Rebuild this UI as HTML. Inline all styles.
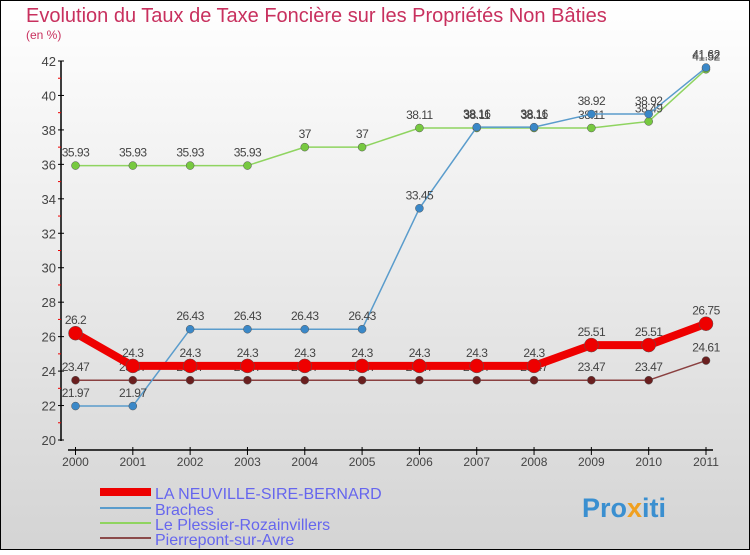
<!DOCTYPE html>
<html><head><meta charset="utf-8"><style>
html,body{margin:0;padding:0}
body{width:750px;height:550px;overflow:hidden;font-family:"Liberation Sans",sans-serif}
svg text{font-family:"Liberation Sans",sans-serif}
</style></head><body>
<svg id="c" width="750" height="550" xmlns="http://www.w3.org/2000/svg">
<defs><linearGradient id="bg" x1="0" y1="0" x2="0" y2="1"><stop offset="0" stop-color="#ffffff"/><stop offset="1" stop-color="#d4d4d4"/></linearGradient></defs>
<rect x="0.5" y="0.5" width="749" height="549" fill="url(#bg)" stroke="#000"/>
<text x="26" y="22" font-size="20" fill="#c8305e">Evolution du Taux de Taxe Foncière sur les Propriétés Non Bâties</text>
<text x="26" y="39" font-size="12" fill="#c8305e">(en %)</text>
<g id="axes"></g>
<g id="series"></g>
<g>
<line x1="100" y1="492" x2="151" y2="492" stroke="#e00" stroke-width="8"/>
<text x="155" y="499" font-size="16" fill="#6666ee">LA NEUVILLE-SIRE-BERNARD</text>
<line x1="100" y1="508" x2="151" y2="508" stroke="#5a9ccc" stroke-width="2"/>
<text x="155" y="515" font-size="16" fill="#6666ee">Braches</text>
<line x1="100" y1="523" x2="151" y2="523" stroke="#8fd460" stroke-width="2"/>
<text x="155" y="530" font-size="16" fill="#6666ee">Le Plessier-Rozainvillers</text>
<line x1="100" y1="538" x2="151" y2="538" stroke="#8a4a4a" stroke-width="2"/>
<text x="155" y="545" font-size="16" fill="#6666ee">Pierrepont-sur-Avre</text>
</g>
<text x="582" y="517" font-size="27" font-weight="bold" fill="#3a8fd0">Pro<tspan fill="#f0a020">x</tspan>iti</text>
</svg>
<script>
const years=[2000,2001,2002,2003,2004,2005,2006,2007,2008,2009,2010,2011];
const yTicks=[20,22,24,26,28,30,32,34,36,38,40,42];
const laNeuville=[26.2,24.3,24.3,24.3,24.3,24.3,24.3,24.3,24.3,25.51,25.51,26.75];
const braches=[21.97,21.97,26.43,26.43,26.43,26.43,33.45,38.16,38.16,38.92,38.92,41.62];
const plessier=[35.93,35.93,35.93,35.93,37,37,38.11,38.11,38.11,38.11,38.49,41.52];
const pierrepont=[23.47,23.47,23.47,23.47,23.47,23.47,23.47,23.47,23.47,23.47,23.47,24.61];
const NS="http://www.w3.org/2000/svg";
const x=i=>75.5+i*(706-75.5)/(years.length-1);
const y=v=>440-(v-20)*(440-61)/22;
function mk(tag,attrs,parent){const e=document.createElementNS(NS,tag);for(const k in attrs)e.setAttribute(k,attrs[k]);parent.appendChild(e);return e;}
const ax=document.getElementById('axes');
let l=mk('line',{x1:61,y1:61,x2:61,y2:441,stroke:'#000','stroke-width':1.5},ax);


l=mk('line',{x1:68,y1:450,x2:713,y2:450,stroke:'#000','stroke-width':1.5},ax);


yTicks.forEach((t,i)=>{
  mk('line',{x1:58,y1:y(t),x2:64,y2:y(t),stroke:'#000'},ax);
  if(i<yTicks.length-1)mk('line',{x1:58,y1:y(t+1),x2:61,y2:y(t+1),stroke:'#e00'},ax);
  const tx=mk('text',{x:56,y:y(t)+5,'font-size':13,fill:'#444','text-anchor':'end'},ax);
  tx.textContent=t;
  
  
});
years.forEach((yr,i)=>{
  mk('line',{x1:x(i),y1:447,x2:x(i),y2:455,stroke:'#000'},ax);
  const tx=mk('text',{x:x(i),y:466,'font-size':12,fill:'#444','text-anchor':'middle'},ax);
  tx.textContent=yr;
  
  
});
const sg=document.getElementById('series');
function draw(vals,name,color,dot,w,r){
  const g=mk('g',{},sg);
  
  
  const p=mk('polyline',{points:vals.map((v,i)=>x(i)+','+y(v)).join(' '),fill:'none',stroke:color,'stroke-width':w,'stroke-linejoin':'round'},g);
  
  
  vals.forEach((v,i)=>{
    const c=mk('circle',{cx:x(i),cy:y(v),r:r,fill:dot,stroke:'#555','stroke-width':0.5},g);
    
    
    const t=mk('text',{x:x(i),y:y(v)-9,'font-size':12,fill:'#444','text-anchor':'middle','letter-spacing':'-0.5'},g);
    t.textContent=v;
    
    
  });
}
draw(pierrepont,'pierrepont','#8a4040','#6a1f1f',1.5,4);
draw(plessier,'plessier','#8fd460','#77c940',1.5,4);
draw(braches,'braches','#5a9ccc','#3a88c8',1.5,4);
draw(laNeuville,'la-neuville','#e00','#e00',8,7);
</script>
</body></html>
